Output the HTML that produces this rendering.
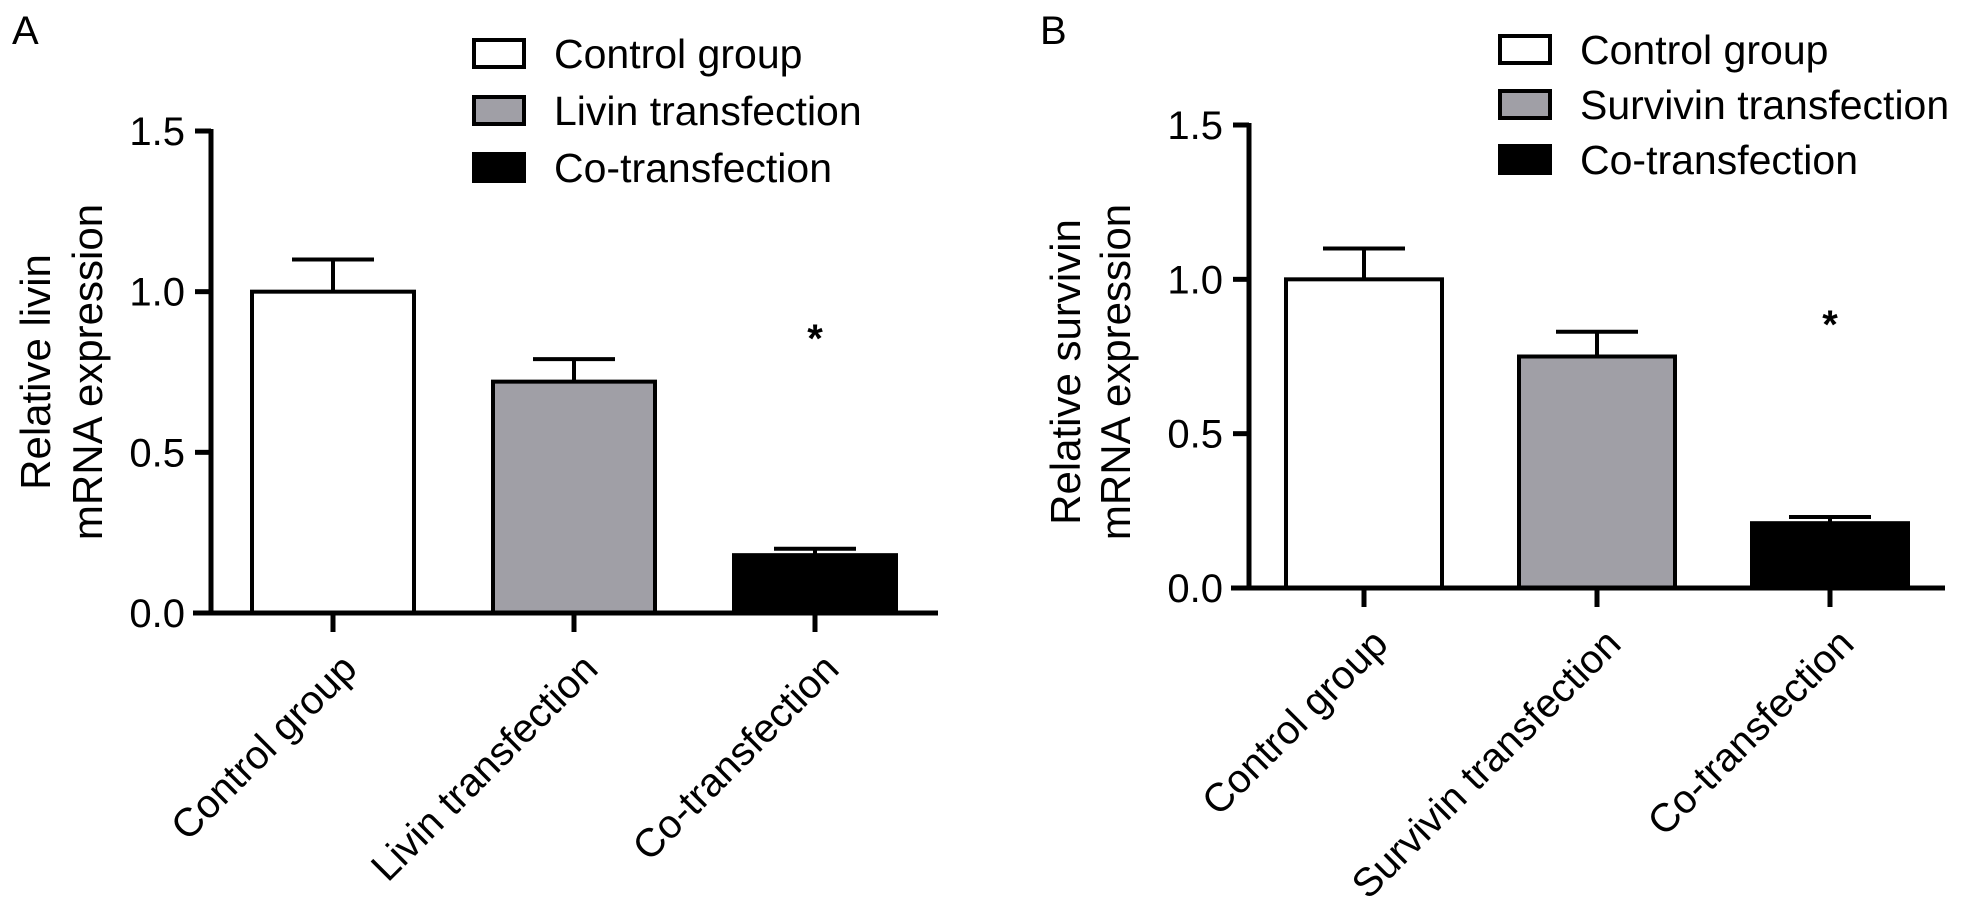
<!DOCTYPE html>
<html><head><meta charset="utf-8"><style>
html,body{margin:0;padding:0;background:#fff;}
svg{display:block;font-family:"Liberation Sans",Arial,sans-serif;}
</style></head><body>
<svg id="fig" width="1961" height="908" viewBox="0 0 1961 908">
<text x="12" y="44" font-size="40">A</text>
<text x="1040" y="44" font-size="40">B</text>
</svg>
<script>
const catsA = ["Control group","Livin transfection","Co-transfection"];
const valsA = [1.0, 0.72, 0.18];
const errA = [1.10, 0.79, 0.20];
const catsB = ["Control group","Survivin transfection","Co-transfection"];
const valsB = [1.0, 0.75, 0.21];
const errB = [1.10, 0.83, 0.23];
const ticks = [0.0, 0.5, 1.0, 1.5];
const tickLabels = ["0.0","0.5","1.0","1.5"];
const fills = ["#ffffff","#a09fa6","#000000"];

const NS = "http://www.w3.org/2000/svg";
const svg = document.getElementById('fig');
function mk(tag, attrs, parent){const e=document.createElementNS(NS,tag);for(const k in attrs)e.setAttribute(k,attrs[k]);(parent||svg).appendChild(e);return e;}

function panel(p){
  const g = mk('g',{});
  
  
  const y = v => p.y0 - v*(p.y0-p.y15)/1.5;
  const xc = i => p.c0 + i*p.step;
  p.vals.forEach((v,i)=>{
    const r = mk('rect',{x:xc(i)-p.bw/2,y:y(v),width:p.bw,height:p.y0-y(v),fill:fills[i],stroke:'#000','stroke-width':4},g);
    
    
    const e = mk('path',{d:`M${xc(i)} ${y(v)} V${y(p.err[i])} M${xc(i)-41} ${y(p.err[i])} H${xc(i)+41}`,stroke:'#000','stroke-width':4,fill:'none'},g);
    
    
  });
  const ya = mk('path',{d:`M${p.ax} ${y(1.5)-2} V${p.y0+2}`,stroke:'#000','stroke-width':5},g);
  
  
  const xa = mk('path',{d:`M${p.ax-18} ${p.y0} H${p.xend}`,stroke:'#000','stroke-width':5},g);
  
  
  ticks.forEach((t,i)=>{
    mk('path',{d:`M${p.ax-16} ${y(t)} H${p.ax}`,stroke:'#000','stroke-width':5},g);
    const tl = mk('text',{x:p.ax-26,y:y(t)+14,'font-size':40,'text-anchor':'end'},g);
    tl.textContent = tickLabels[i];
    
    
  });
  p.cats.forEach((c,i)=>{
    mk('path',{d:`M${xc(i)} ${p.y0} V${p.y0+19}`,stroke:'#000','stroke-width':5},g);
    const tx = xc(i)+26, ty = p.y0+58;
    const t = mk('text',{x:tx,y:ty,'font-size':40,'text-anchor':'end',transform:`rotate(-45 ${tx} ${ty})`},g);
    t.textContent = c;
    
    
  });
  p.title.forEach((s,i)=>{
    const tx = p.tx[i], ty = p.tcy;
    const t = mk('text',{x:tx,y:ty,'font-size':42,'text-anchor':'middle',transform:`rotate(-90 ${tx} ${ty})`},g);
    t.textContent = s;
    
    
  });
  const a = mk('text',{x:xc(2),y:p.asty,'font-size':40,'font-weight':'bold','text-anchor':'middle'},g);
  a.textContent='*';
  
  
  p.cats.forEach((c,i)=>{
    const ly = p.ly + i*p.lstep;
    const lg = mk('g',{},g);
    
    
    mk('rect',{x:p.lx,y:ly,width:50,height:27,fill:fills[i],stroke:'#000','stroke-width':4},lg);
    const t = mk('text',{x:p.lx+80,y:ly+28,'font-size':41},lg);
    t.textContent = c;
  });
}
panel({id:'panel-a',cats:catsA,vals:valsA,err:errA,ax:211,y0:613,y15:131,c0:333,step:241,bw:162,xend:938,
  title:["Relative livin","mRNA expression"],tx:[50,102],tcy:372,asty:352,lx:474,ly:40,lstep:57});
panel({id:'panel-b',cats:catsB,vals:valsB,err:errB,ax:1249,y0:588,y15:125,c0:1364,step:233,bw:156,xend:1945,
  title:["Relative survivin","mRNA expression"],tx:[1080,1130],tcy:372,asty:338,lx:1500,ly:36,lstep:55});
</script>
</body></html>
